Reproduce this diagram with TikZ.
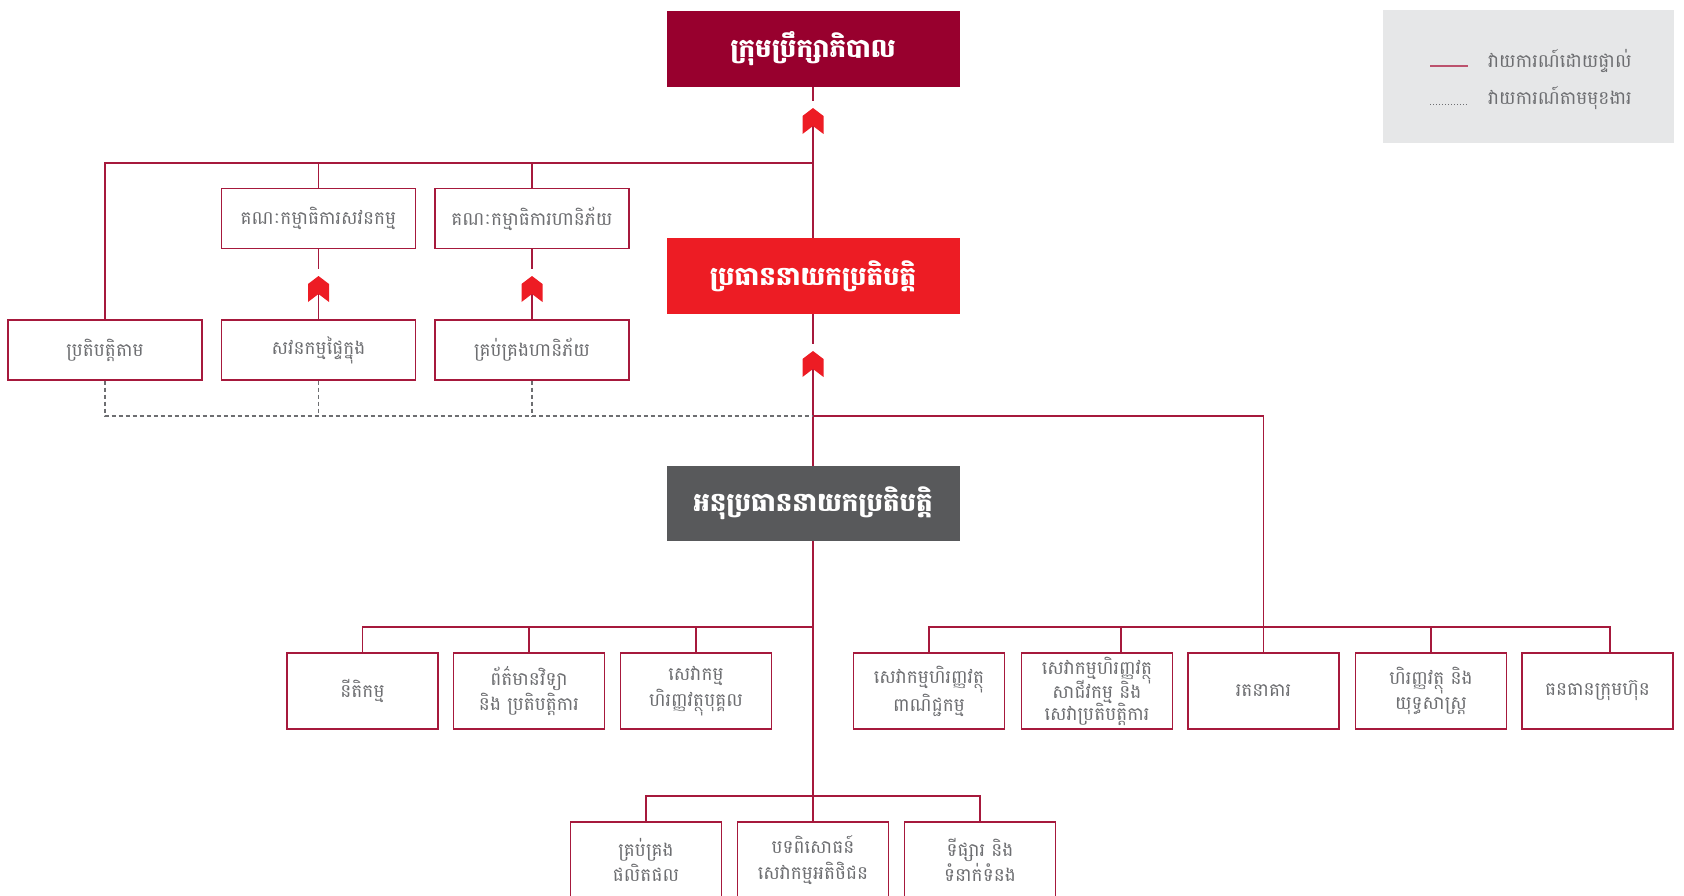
\documentclass[tikz,border=0pt]{standalone}
\usepackage{fontspec}
\newfontfamily\khmer[Script=Khmer]{Battambang}
\definecolor{boardred}{HTML}{98002E}
\definecolor{ceored}{HTML}{ED1C24}
\definecolor{dceogray}{HTML}{58595B}
\definecolor{linkred}{HTML}{A6193C}
\definecolor{textgray}{HTML}{6D6E71}
\definecolor{legendbg}{HTML}{E6E7E8}

\tikzset{
  pics/chevron/.style={code={
    \fill[ceored] (0,0) -- (10.5,8) -- (10.5,26) -- (0,18) -- (-10.5,26) -- (-10.5,8) -- cycle;}}
}

\begin{document}
\begin{tikzpicture}[x=1pt,y=-1pt,
  head/.style={minimum width=293pt, minimum height=76pt, inner sep=0pt, text=white,
    font=\khmer\bfseries\fontsize{26}{31}\selectfont},
  unit/.style={draw=linkred, line width=1.4pt, fill=white, minimum width=194pt,
    minimum height=60pt, inner sep=0pt, text=textgray, align=center,
    font=\khmer\fontsize{18.5}{25.5}\selectfont},
  dept/.style={unit, minimum width=151pt, minimum height=76pt},
  link/.style={draw=linkred, line width=1.3pt},
  func/.style={draw=textgray, line width=1.2pt, dash pattern=on 4pt off 3pt},
  keytext/.style={anchor=west, inner sep=0pt, text=textgray, font=\khmer\fontsize{18.5}{25}\selectfont}]

\useasboundingbox (0,0) rectangle (1684,896);

% legend
\fill[legendbg] (1383,10) rectangle (1674,143);
\coordinate (keyA1) at (1430,66);
\coordinate (keyA2) at (1468,66);
\coordinate (keyB1) at (1430,104);
\coordinate (keyB2) at (1468,104);
\draw[draw=linkred!75, line width=1.3pt] (keyA1) -- (keyA2);
\draw[draw=textgray, line width=0.8pt, dash pattern=on 1pt off 2pt] (keyB1) -- (keyB2);
\node[keytext] (keyA) at (1488,61) {វាយការណ៍ដោយផ្ទាល់};
\node[keytext] (keyB) at (1488,98) {វាយការណ៍តាមមុខងារ};

% executive boxes
\node[head, fill=boardred] (board) at (813,49) {ក្រុមប្រឹក្សាភិបាល};
\node[head, fill=ceored] (ceo) at (813,276) {ប្រធាននាយកប្រតិបត្តិ};
\node[head, fill=dceogray, minimum height=75pt] (dceo) at (813,503.5) {អនុប្រធាននាយកប្រតិបត្តិ};

% committees and control functions
\node[unit] (audc) at (318.5,218.5) {គណៈកម្មាធិការសវនកម្ម};
\node[unit] (riskc) at (532,218.5) {គណៈកម្មាធិការហានិភ័យ};
\node[unit] (comp) at (105,350) {ប្រតិបត្តិតាម};
\node[unit] (iaud) at (318.5,350) {សវនកម្មផ្ទៃក្នុង};
\node[unit] (rmgt) at (532,350) {គ្រប់គ្រងហានិភ័យ};

% departments, first row
\node[dept] (legal) at (362.5,691) {នីតិកម្ម};
\node[dept] (itops) at (529,691) {ព័ត៌មានវិទ្យា\\និង ប្រតិបត្តិការ};
\node[dept] (retail) at (696,691) {សេវាកម្ម\\ហិរញ្ញវត្ថុបុគ្គល};
\node[dept] (commerce) at (929,691) {សេវាកម្មហិរញ្ញវត្ថុ\\ពាណិជ្ជកម្ម};
\node[dept] (corporate) at (1097,691) {សេវាកម្មហិរញ្ញវត្ថុ\\[-4pt]សាជីវកម្ម និង\\[-4pt]សេវាប្រតិបត្តិការ};
\node[dept] (treasury) at (1263.5,691) {រតនាគារ};
\node[dept] (finance) at (1431,691) {ហិរញ្ញវត្ថុ និង\\យុទ្ធសាស្ត្រ};
\node[dept] (resources) at (1597.5,691) {ធនធានក្រុមហ៊ុន};

% departments, second row
\node[dept] (product) at (646,860) {គ្រប់គ្រង\\ផលិតផល};
\node[dept] (custexp) at (813,860) {បទពិសោធន៍\\សេវាកម្មអតិថិជន};
\node[dept] (market) at (980,860) {ទីផ្សារ និង\\ទំនាក់ទំនង};

% board to CEO
\coordinate (chA) at (813,108);
\coordinate (chAin) at (813,101);
\coordinate (chAout) at (813,126);
\draw[link] (board.south) -- (chAin);
\draw[link] (chAout) -- (ceo.north);
\pic at (chA) {chevron};

% board bus to committees and compliance
\coordinate (boardbus) at (813,163);
\draw[link] (boardbus) -| (comp.north);
\draw[link] (audc.north) -- (audc.north |- boardbus);
\draw[link] (riskc.north) -- (riskc.north |- boardbus);

% committees to their functions
\coordinate (chB) at (318.5,276);
\coordinate (chBin) at (318.5,269);
\coordinate (chBout) at (318.5,294);
\draw[link] (audc.south) -- (chBin);
\draw[link] (chBout) -- (iaud.north);
\pic at (chB) {chevron};
\coordinate (chC) at (532,276);
\coordinate (chCin) at (532,269);
\coordinate (chCout) at (532,294);
\draw[link] (riskc.south) -- (chCin);
\draw[link] (chCout) -- (rmgt.north);
\pic at (chC) {chevron};

% CEO to deputy CEO
\coordinate (chD) at (813,351);
\coordinate (chDin) at (813,344);
\coordinate (chDout) at (813,369);
\draw[link] (ceo.south) -- (chDin);
\draw[link] (chDout) -- (dceo.north);
\pic at (chD) {chevron};

% functional reporting lines
\coordinate (ceobus) at (813,416);
\draw[func] (comp.south) |- (ceobus);
\draw[func] (iaud.south) -- (iaud.south |- ceobus);
\draw[func] (rmgt.south) -- (rmgt.south |- ceobus);

% CEO to right-hand departments
\coordinate (rbus) at (1263.5,627);
\coordinate (corpdrop) at (1121,653);
\coordinate (resdrop) at (1610,653);
\draw[link] (ceobus) -| (treasury.north);
\draw[link] (commerce.north) |- (resdrop |- rbus) -- (resdrop);
\draw[link] (corpdrop) -- (corpdrop |- rbus);
\draw[link] (finance.north) -- (finance.north |- rbus);

% deputy CEO to left-hand departments
\coordinate (lbus) at (813,627);
\draw[link] (lbus) -| (legal.north);
\draw[link] (itops.north) -- (itops.north |- lbus);
\draw[link] (retail.north) -- (retail.north |- lbus);

% deputy CEO to lower departments
\coordinate (bbus) at (813,796);
\draw[link] (dceo.south) -- (custexp.north);
\draw[link] (product.north) |- (bbus) -| (market.north);

\end{tikzpicture}
\end{document}
